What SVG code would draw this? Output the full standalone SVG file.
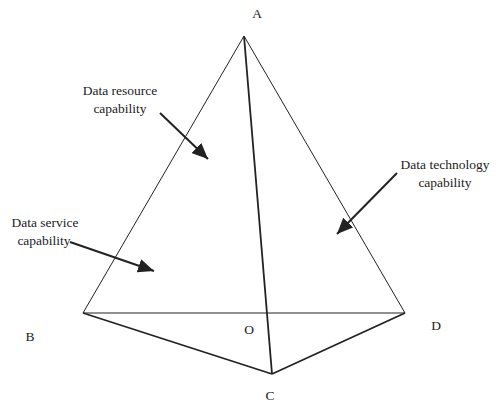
<svg xmlns="http://www.w3.org/2000/svg" width="497" height="403" viewBox="0 0 497 403">
<style>
text{font-family:"Liberation Serif","Times New Roman",Times,serif;font-size:13.5px;fill:#222;text-anchor:middle}
.thin{stroke:#222;stroke-width:1;fill:none}
.thick{stroke:#222;stroke-width:1.8;fill:none}
.arr{stroke:#222;stroke-width:2;fill:none;marker-end:url(#ah)}
</style>
<defs>
<marker id="ah" markerUnits="userSpaceOnUse" markerWidth="18" markerHeight="14" refX="16" refY="7" orient="auto">
<path d="M0,0 L16,7 L0,14 Z" fill="#222"/>
</marker>
</defs>
<rect width="497" height="403" fill="#fff"/>
<g id="edges">
<line class="thin" x1="244" y1="36" x2="83" y2="313"/>
<line class="thin" x1="244" y1="36" x2="405" y2="313"/>
<line class="thin" x1="83" y1="313" x2="405" y2="313"/>
<line class="thick" x1="244" y1="36" x2="272" y2="374"/>
<line class="thick" x1="83" y1="313" x2="272" y2="374"/>
<line class="thick" x1="405" y1="313" x2="272" y2="374"/>
</g>
<g id="arrows">
<line class="arr" x1="160" y1="113" x2="208" y2="159"/>
<line class="arr" x1="70" y1="242" x2="154" y2="271"/>
<line class="arr" x1="397" y1="173" x2="337" y2="234"/>
</g>
<g id="vertex-A"><text x="257" y="18">A</text></g>
<g id="vertex-B"><text x="30" y="341">B</text></g>
<g id="vertex-O"><text x="249" y="334">O</text></g>
<g id="vertex-C"><text x="270" y="400">C</text></g>
<g id="vertex-D"><text x="436" y="330">D</text></g>
<g id="label-resource"><text x="120" y="95">Data resource</text><text x="120" y="113">capability</text></g>
<g id="label-service"><text x="45" y="227">Data service</text><text x="44" y="245">capability</text></g>
<g id="label-technology"><text x="445" y="169">Data technology</text><text x="445" y="187">capability</text></g>
</svg>
